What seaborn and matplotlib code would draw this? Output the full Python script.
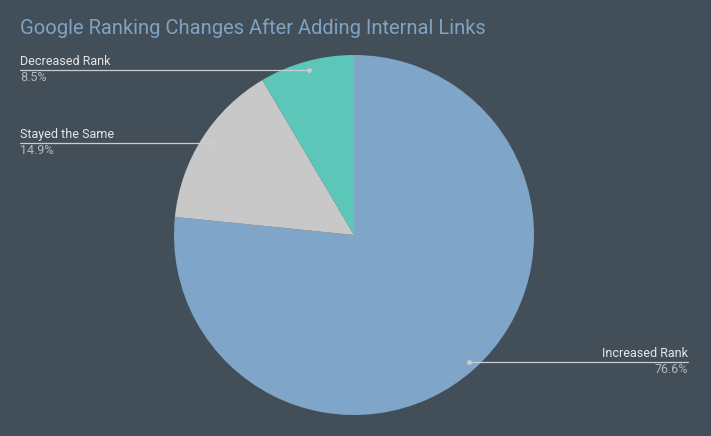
import numpy as np
import matplotlib
matplotlib.use("Agg")
import matplotlib.pyplot as plt
import seaborn as sns

title = "Google Ranking Changes After Adding Internal Links"
categories = ["Increased Rank", "Stayed the Same", "Decreased Rank"]
values = [76.6, 14.9, 8.5]
pct_labels = ["76.6%", "14.9%", "8.5%"]
colors = ["#7fa6c9", "#c8c8c8", "#5cc7b8"]

BG = "#434f58"
sns.set_style("white")
plt.rcParams['font.family'] = ['Roboto', 'DejaVu Sans']

W, H = 711, 436
fig = plt.figure(figsize=(W / 100, H / 100), dpi=100, facecolor=BG)
ax = fig.add_axes([0, 0, 1, 1])
ax.set_facecolor(BG)

cx, cy, R = 354, H - 235, 180
wedges, _ = ax.pie(values, colors=sns.color_palette(colors), startangle=90,
                   counterclock=False, center=(cx, cy), radius=R,
                   wedgeprops=dict(linewidth=0), frame=True)
ax.set_xlim(0, W)
ax.set_ylim(0, H)
ax.axis("off")

ax.text(20, H - 28, title, color="#7ea3c4", fontsize=14.5, va="center", ha="left")

line_col = "#c9cdd1"
for w, cat, pl in zip(wedges, categories, pct_labels):
    ang = np.deg2rad((w.theta1 + w.theta2) / 2)
    ax_x = cx + 0.95 * R * np.cos(ang)
    ax_y = cy + 0.95 * R * np.sin(ang)
    if np.cos(ang) < 0:
        x0, x1, ha, tx = 20, ax_x, "left", 20
    else:
        x0, x1, ha, tx = ax_x, 688, "right", 688
    ax.plot([x0, x1], [ax_y, ax_y], color=line_col, lw=0.9)
    ax.plot([ax_x], [ax_y], "o", color=line_col, ms=2.5)
    ax.text(tx, ax_y + 2, cat, color="#e6e6e6", fontsize=9, ha=ha, va="bottom")
    ax.text(tx, ax_y - 1, pl, color="#b4b8bc", fontsize=9, ha=ha, va="top")

fig.savefig("out.png", dpi=100, facecolor=BG)
